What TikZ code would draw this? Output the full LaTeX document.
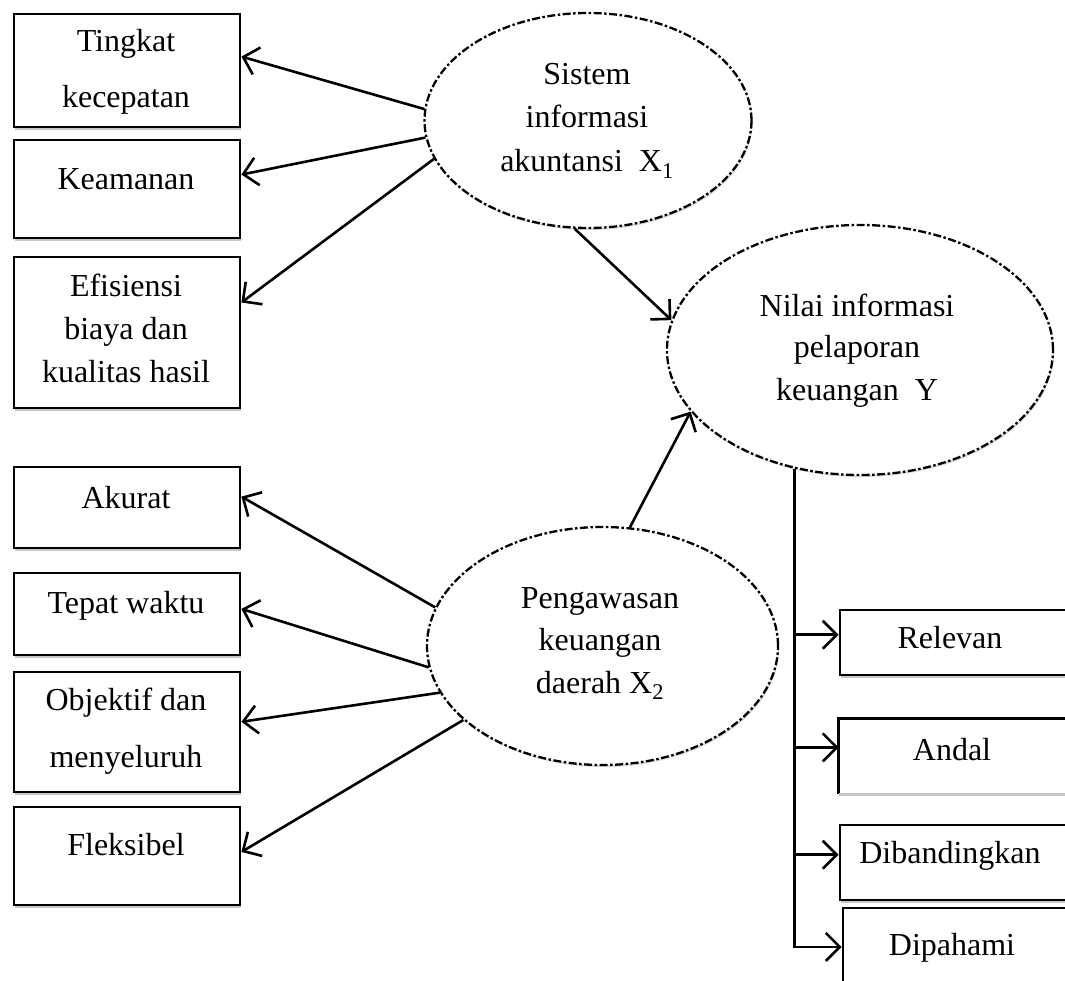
\documentclass[tikz,border=0pt]{standalone}
\usepackage{fontspec}
\setmainfont{Liberation Serif}
\usetikzlibrary{arrows.meta,shapes.geometric,shadows,calc}
\begin{document}
\begin{tikzpicture}[x=1pt,y=-1pt,
  box/.style={draw, line width=2.8pt, rectangle, inner sep=0pt, fill=white,
    drop shadow={shadow xshift=0.5pt, shadow yshift=-3pt, opacity=0.22, fill=black}},
  ell/.style={ellipse, draw, line width=2.3pt, dash pattern=on 8pt off 2.5pt on 2.5pt off 2.5pt,
    inner sep=0pt, fill=white,
    drop shadow={shadow xshift=1pt, shadow yshift=-2pt, opacity=0.15, fill=black}},
  txt/.style={anchor=base, inner sep=0pt, font=\fontsize{32}{43}\selectfont},
  arr/.style={-{Straight Barb[length=14pt,width=28pt,line width=2.6pt]}, line width=2.6pt}
]
\clip (0,0) rectangle (1065,981);
\fill[white] (0,0) rectangle (1065,981);

% ellipses
\node[ell, minimum width=327, minimum height=215] (x1) at (588,120.5) {};
\node[ell, minimum width=386, minimum height=250] (y) at (860,350) {};
\node[ell, minimum width=351, minimum height=238] (x2) at (602.5,646) {};

\node[txt] (x1a) at (587,85) {Sistem};
\node[txt] (x1b) at (587,128) {informasi};
\node[txt] (x1c) at (587,172) {akuntansi\ \ X\textsubscript{1}};

\node[txt] (ya) at (857,317) {Nilai informasi};
\node[txt] (yb) at (857,358) {pelaporan};
\node[txt] (yc) at (857,400) {keuangan\ \ Y};

\node[txt] (x2a) at (600,608) {Pengawasan};
\node[txt] (x2b) at (600,650) {keuangan};
\node[txt] (x2c) at (600,693) {daerah X\textsubscript{2}};

% left boxes
\node[box, minimum width=226, minimum height=113] (b1) at (127,70.5) {};
\node[box, minimum width=226, minimum height=98] (b2) at (127,189) {};
\node[box, minimum width=226, minimum height=151] (b3) at (127,332.5) {};
\node[box, minimum width=226, minimum height=81] (b4) at (127,507.5) {};
\node[box, minimum width=226, minimum height=82] (b5) at (127,614) {};
\node[box, minimum width=226, minimum height=120] (b6) at (127,732) {};
\node[box, minimum width=226, minimum height=98] (b7) at (127,856) {};

\node[txt] (t1a) at (126,52) {Tingkat};
\node[txt] (t1b) at (126,108) {kecepatan};
\node[txt] (t2) at (126,190) {Keamanan};
\node[txt] (t3a) at (126,297) {Efisiensi};
\node[txt] (t3b) at (126,340) {biaya dan};
\node[txt] (t3c) at (126,382) {kualitas hasil};
\node[txt] (t4) at (126,508) {Akurat};
\node[txt] (t5) at (126,613) {Tepat waktu};
\node[txt] (t6a) at (126,710) {Objektif dan};
\node[txt] (t6b) at (126,767) {menyeluruh};
\node[txt] (t7) at (126,855) {Fleksibel};

% right boxes
\node[box, minimum width=240, minimum height=65] (r1) at (960,642.5) {};
\node[box, draw=none, minimum width=240, minimum height=73] (r2) at (960,756.5) {};
\draw[line width=2.8pt] (r2.south west) -- (r2.north west) -- (r2.north east);
\draw[line width=2.5pt, gray!45] (r2.south west) -- (r2.south east);
\node[box, minimum width=240, minimum height=75] (r3) at (960,862.5) {};
\node[box, minimum width=237, minimum height=82] (r4) at (961.5,949) {};

\node[txt] (s1) at (950,648) {Relevan};
\node[txt] (s2) at (952,760) {Andal};
\node[txt] (s3) at (950,863) {Dibandingkan};
\node[txt] (s4) at (952,955) {Dipahami};

% arrows X1 -> indicators
\draw[arr] (x1.176.3) -- ($(b1.north east)!0.38!(b1.south east)$);
\draw[arr] (x1.186.8) -- ($(b2.north east)!0.357!(b2.south east)$);
\draw[arr] (x1.194.1) -- ($(b3.north east)!0.305!(b3.south east)$);

% arrows X2 -> indicators
\draw[arr] (x2.167.4) -- ($(b4.north east)!0.37!(b4.south east)$);
\draw[arr] (x2.187.4) -- ($(b5.north east)!0.44!(b5.south east)$);
\draw[arr] (x2.196) -- ($(b6.north east)!0.417!(b6.south east)$);
\draw[arr] (x2.208.4) -- ($(b7.north east)!0.46!(b7.south east)$);

% arrows to Y
\draw[arr] (x1.263) -- (y.171.2);
\draw[arr] (x2.77.9) -- (y.200.5);

% Y -> indicators
\path ($(r1.north west)!0.385!(r1.south west)$) coordinate (p1);
\path ($(r2.north west)!0.38!(r2.south west)$) coordinate (p2);
\path ($(r3.north west)!0.4!(r3.south west)$) coordinate (p3);
\path ($(r4.north west)!0.475!(r4.south west)$) coordinate (p4);
\draw[arr] (y.241.2) |- (p4);
\draw[arr] (y.241.2 |- p1) -- (p1);
\draw[arr] (y.241.2 |- p2) -- (p2);
\draw[arr] (y.241.2 |- p3) -- (p3);
\end{tikzpicture}
\end{document}
